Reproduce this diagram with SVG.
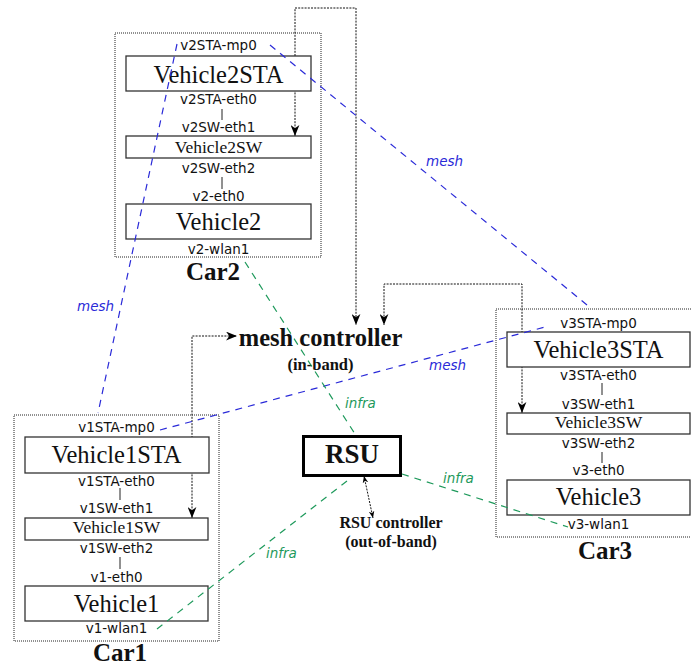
<svg xmlns="http://www.w3.org/2000/svg" width="691" height="667" viewBox="0 0 691 667">
<defs>
<style>
.car{fill:none;stroke:#222;stroke-width:1;stroke-dasharray:1,1}
.box{fill:#fff;stroke:#333;stroke-width:1.3}
.ctl{fill:none;stroke:#111;stroke-width:1;stroke-dasharray:2,1.2}
.mesh{fill:none;stroke:#2a2ad8;stroke-width:1.2;stroke-dasharray:7,6}
.infra{fill:none;stroke:#1f9a5c;stroke-width:1.2;stroke-dasharray:7,6}
.tick{stroke:#222;stroke-width:1}
.lbl{font-family:"DejaVu Sans",Verdana,sans-serif;font-size:13.5px;fill:#111;text-anchor:middle}
.big{font-family:"Liberation Serif","Times New Roman",serif;font-size:24.5px;fill:#111;text-anchor:middle}
.sw{font-family:"Liberation Serif","Times New Roman",serif;font-size:17.5px;fill:#111;text-anchor:middle}
.carl{font-family:"Liberation Serif","Times New Roman",serif;font-size:25px;font-weight:bold;fill:#111;text-anchor:middle}
.bold{font-family:"Liberation Serif","Times New Roman",serif;font-weight:bold;fill:#111;text-anchor:middle}
.meshl{font-family:"DejaVu Sans",Verdana,sans-serif;font-size:13.5px;font-style:italic;fill:#2a2ad8}
.infral{font-family:"DejaVu Sans",Verdana,sans-serif;font-size:13.5px;font-style:italic;fill:#1f9a5c}
</style>
<marker id="ah" viewBox="0 0 10 8" refX="10" refY="4" markerWidth="11" markerHeight="9" markerUnits="userSpaceOnUse" orient="auto-start-reverse">
<path d="M0,0 L10,4 L0,8 L3,4 z" fill="#000"/>
</marker>
<marker id="ahs" viewBox="0 0 10 8" refX="10" refY="4" markerWidth="7" markerHeight="6" markerUnits="userSpaceOnUse" orient="auto-start-reverse">
<path d="M0,0 L10,4 L0,8 L3,4 z" fill="#000"/>
</marker>
</defs>
<rect width="691" height="667" fill="#fff"/>

<rect class="car" x="115" y="33" width="206" height="224"/>
<rect class="car" x="14" y="415" width="205" height="226"/>
<rect class="car" x="496" y="309" width="210" height="228"/>

<g id="control-connectors">
<path class="ctl" d="M295,136 L295,8 L356,8 L356,325" marker-start="url(#ah)" marker-end="url(#ah)"/>
<path class="ctl" d="M192,518 L192,336 L237,336" marker-start="url(#ah)" marker-end="url(#ah)"/>
<path class="ctl" d="M522,413 L522,284 L384,284 L384,325" marker-start="url(#ah)" marker-end="url(#ah)"/>
<path class="ctl" d="M364,476 L373,518" marker-start="url(#ahs)" marker-end="url(#ahs)"/>
</g>

<g id="car2">
<text class="lbl" x="218.5" y="50">v2STA-mp0</text>
<g id="vehicle2sta"><rect class="box" x="126" y="56" width="185" height="35"/><text class="big" x="218.5" y="83">Vehicle2STA</text></g>
<text class="lbl" x="218.5" y="104">v2STA-eth0</text>
<line class="tick" x1="222" y1="109" x2="222" y2="120"/>
<text class="lbl" x="218.5" y="132">v2SW-eth1</text>
<g id="vehicle2sw"><rect class="box" x="126" y="136" width="185" height="22"/><text class="sw" x="218.5" y="153">Vehicle2SW</text></g>
<text class="lbl" x="218.5" y="173">v2SW-eth2</text>
<line class="tick" x1="222" y1="177" x2="222" y2="189"/>
<text class="lbl" x="218.5" y="201">v2-eth0</text>
<g id="vehicle2"><rect class="box" x="126" y="204" width="185" height="35"/><text class="big" x="218.5" y="230">Vehicle2</text></g>
<text class="lbl" x="218.5" y="254">v2-wlan1</text>
<text class="carl" x="213" y="280">Car2</text>
</g>

<g id="car1">
<text class="lbl" x="116.5" y="432">v1STA-mp0</text>
<g id="vehicle1sta"><rect class="box" x="25" y="437" width="184" height="36"/><text class="big" x="116.5" y="463">Vehicle1STA</text></g>
<text class="lbl" x="116.5" y="486">v1STA-eth0</text>
<line class="tick" x1="120" y1="488" x2="120" y2="500"/>
<text class="lbl" x="116.5" y="513">v1SW-eth1</text>
<g id="vehicle1sw"><rect class="box" x="25" y="518" width="183" height="22"/><text class="sw" x="116.5" y="533">Vehicle1SW</text></g>
<text class="lbl" x="116.5" y="553">v1SW-eth2</text>
<line class="tick" x1="120" y1="557" x2="120" y2="569"/>
<text class="lbl" x="116.5" y="582">v1-eth0</text>
<g id="vehicle1"><rect class="box" x="25" y="586" width="183" height="35"/><text class="big" x="116.5" y="612">Vehicle1</text></g>
<text class="lbl" x="116.5" y="633">v1-wlan1</text>
<text class="carl" x="120" y="661">Car1</text>
</g>

<g id="car3">
<text class="lbl" x="598.5" y="328">v3STA-mp0</text>
<g id="vehicle3sta"><rect class="box" x="507" y="332" width="183" height="35"/><text class="big" x="598.5" y="358">Vehicle3STA</text></g>
<text class="lbl" x="598.5" y="380">v3STA-eth0</text>
<line class="tick" x1="602" y1="383" x2="602" y2="395"/>
<text class="lbl" x="598.5" y="409">v3SW-eth1</text>
<g id="vehicle3sw"><rect class="box" x="507" y="413" width="183" height="21"/><text class="sw" x="598.5" y="428">Vehicle3SW</text></g>
<text class="lbl" x="598.5" y="448">v3SW-eth2</text>
<line class="tick" x1="602" y1="452" x2="602" y2="463"/>
<text class="lbl" x="598.5" y="475">v3-eth0</text>
<g id="vehicle3"><rect class="box" x="507" y="480" width="183" height="35"/><text class="big" x="598.5" y="505">Vehicle3</text></g>
<text class="lbl" x="598.5" y="529">v3-wlan1</text>
<text class="carl" x="605" y="559">Car3</text>
</g>

<g id="mesh-controller">
<text class="bold" x="320.5" y="346" font-size="24.5">mesh controller</text>
<text class="bold" x="320.5" y="370" font-size="16.5">(in-band)</text>
</g>

<g id="rsu">
<rect x="303.5" y="436.5" width="97" height="39" fill="#fff" stroke="#000" stroke-width="3"/>
<text class="bold" x="352" y="463" font-size="27">RSU</text>
</g>

<g id="rsu-controller">
<text class="bold" x="391" y="528" font-size="16">RSU controller</text>
<text class="bold" x="391" y="547" font-size="16">(out-of-band)</text>
</g>

<g id="wireless-connectors">
<path class="mesh" d="M177,44 L98,413"/>
<path class="mesh" d="M270,45 L587,305"/>
<path class="mesh" d="M160,430 L545,327"/>
<path class="infra" d="M245,262 L355,434"/>
<path class="infra" d="M402,474 L568,527"/>
<path class="infra" d="M347,481 L157,629"/>
<text class="meshl" x="77" y="311">mesh</text>
<text class="meshl" x="426" y="166">mesh</text>
<text class="meshl" x="429" y="370">mesh</text>
<text class="infral" x="345" y="408">infra</text>
<text class="infral" x="443" y="483">infra</text>
<text class="infral" x="266" y="558">infra</text>
</g>
</svg>
